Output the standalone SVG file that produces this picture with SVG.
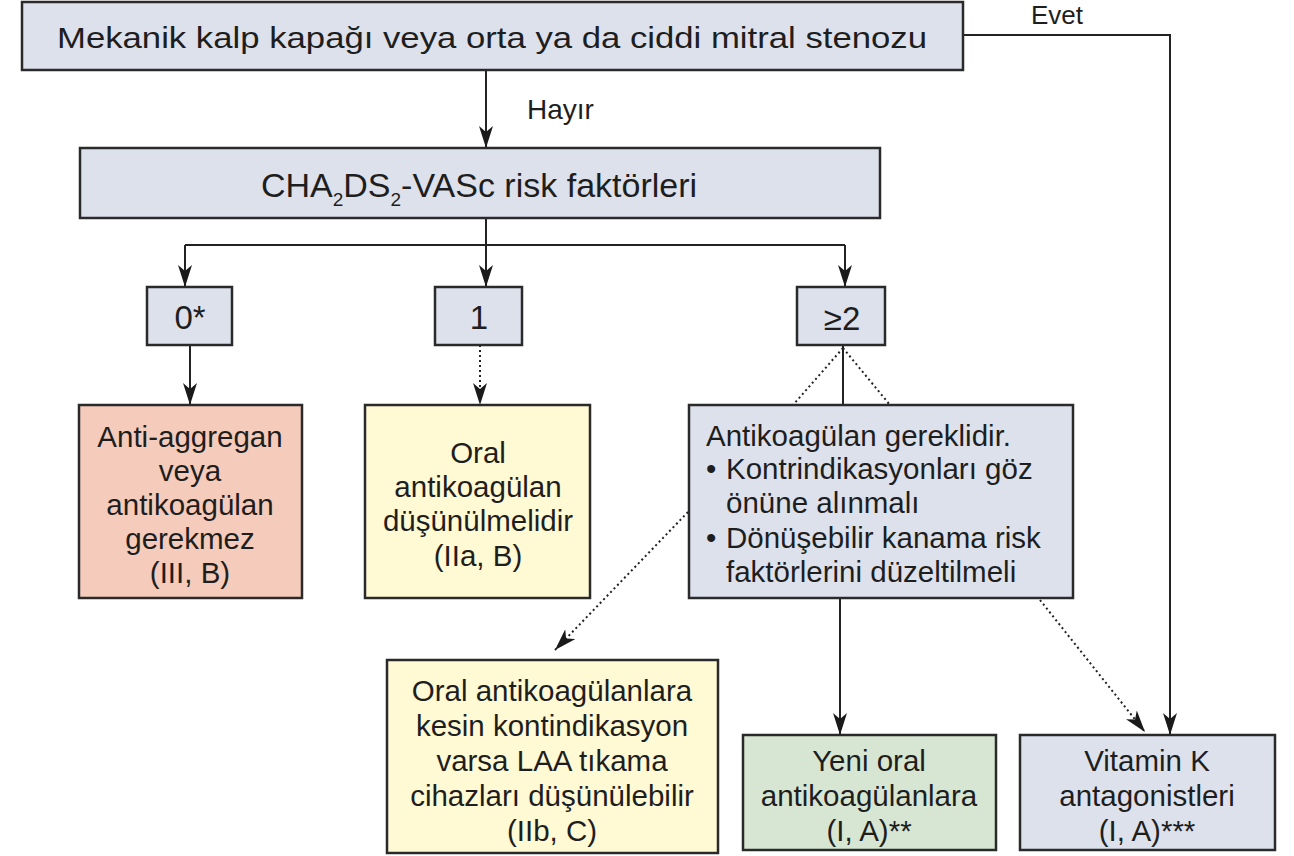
<svg xmlns="http://www.w3.org/2000/svg" width="1294" height="856" viewBox="0 0 1294 856">
<style>
.box{stroke:#2a2a2a;stroke-width:2.5}
.blue{fill:#dde1ec}
.red{fill:#f5cbbb}
.yel{fill:#fff9d4}
.grn{fill:#d7e6d2}
text{font-family:"Liberation Sans",Arial,sans-serif;fill:#1e1e1e}
.t{font-size:29.5px;text-anchor:middle}
.tl{font-size:29.5px}
.n{font-size:33px;text-anchor:middle}
.lbl{font-size:28px}
.ln{stroke:#222;stroke-width:2;fill:none}
.dt{stroke:#222;stroke-width:2;fill:none;stroke-dasharray:2 3}
</style>
<defs>
<marker id="ah" viewBox="0 0 22 14" refX="22" refY="7" markerWidth="22" markerHeight="14" markerUnits="userSpaceOnUse" orient="auto">
<path d="M0,0 L22,7 L0,14 L6,7 z" fill="#1a1a1a"/>
</marker>
</defs>
<g id="connectors">
<path class="ln" d="M963,35 H1170 V735" marker-end="url(#ah)"/>
<path class="ln" d="M486,70 V148" marker-end="url(#ah)"/>
<path class="ln" d="M486,218 V245"/>
<path class="ln" d="M185,245 H845"/>
<path class="ln" d="M185,245 V287" marker-end="url(#ah)"/>
<path class="ln" d="M486,245 V287" marker-end="url(#ah)"/>
<path class="ln" d="M845,245 V287" marker-end="url(#ah)"/>
<path class="ln" d="M190,345 V405" marker-end="url(#ah)"/>
<path class="dt" d="M480,345 V405" marker-end="url(#ah)"/>
<path class="ln" d="M843,345 V405"/>
<path class="dt" d="M843,348 L793,405"/>
<path class="dt" d="M843,348 L890,405"/>
<path class="dt" d="M688,512 L555,650" marker-end="url(#ah)"/>
<path class="ln" d="M840,598 V735" marker-end="url(#ah)"/>
<path class="dt" d="M1040,600 L1145,732" marker-end="url(#ah)"/>
<text class="lbl" x="1031" y="24" style="font-size:26px">Evet</text>
<text class="lbl" x="527" y="119">Hayır</text>
</g>
<g id="n-top">
<rect class="box blue" x="22" y="2" width="941" height="68"/>
<text class="t" x="492" y="48" style="font-size:30px" textLength="870" lengthAdjust="spacingAndGlyphs">Mekanik kalp kapağı veya orta ya da ciddi mitral stenozu</text>
</g>
<g id="n-cha">
<rect class="box blue" x="80" y="148" width="800" height="70"/>
<text class="t" x="479" y="197" style="font-size:34px">CHA<tspan style="font-size:19px" dy="9">2</tspan><tspan dy="-9">DS</tspan><tspan style="font-size:19px" dy="9">2</tspan><tspan dy="-9">-VASc risk faktörleri</tspan></text>
</g>
<g id="n-0">
<rect class="box blue" x="147" y="287" width="85" height="58"/>
<text class="n" x="190" y="329">0*</text>
</g>
<g id="n-1">
<rect class="box blue" x="435" y="287" width="87" height="58"/>
<text class="n" x="479" y="329">1</text>
</g>
<g id="n-2">
<rect class="box blue" x="797" y="287" width="88" height="58"/>
<text class="n" x="842" y="330">≥2</text>
</g>
<g id="n-anti">
<rect class="box red" x="79" y="405" width="223" height="193"/>
<text class="t" x="190" y="447">Anti-aggregan</text>
<text class="t" x="190" y="481">veya</text>
<text class="t" x="190" y="515">antikoagülan</text>
<text class="t" x="190" y="549">gerekmez</text>
<text class="t" x="190" y="583">(III, B)</text>
</g>
<g id="n-oral">
<rect class="box yel" x="365" y="405" width="225" height="193"/>
<text class="t" x="478" y="463">Oral</text>
<text class="t" x="478" y="497">antikoagülan</text>
<text class="t" x="478" y="531">düşünülmelidir</text>
<text class="t" x="478" y="566">(IIa, B)</text>
</g>
<g id="n-antikoag">
<rect class="box blue" x="689" y="405" width="384" height="193"/>
<text class="tl" x="706" y="446">Antikoagülan gereklidir.</text>
<text class="tl" x="706" y="479">•</text>
<text class="tl" x="726" y="479">Kontrindikasyonları göz</text>
<text class="tl" x="726" y="513">önüne alınmalı</text>
<text class="tl" x="706" y="548">•</text>
<text class="tl" x="726" y="548">Dönüşebilir kanama risk</text>
<text class="tl" x="726" y="582">faktörlerini düzeltilmeli</text>
</g>
<g id="n-laa">
<rect class="box yel" x="387" y="660" width="331" height="193"/>
<text class="t" x="552" y="701">Oral antikoagülanlara</text>
<text class="t" x="552" y="736">kesin kontindikasyon</text>
<text class="t" x="552" y="771">varsa LAA tıkama</text>
<text class="t" x="552" y="806">cihazları düşünülebilir</text>
<text class="t" x="552" y="841">(IIb, C)</text>
</g>
<g id="n-yeni">
<rect class="box grn" x="743" y="735" width="253" height="115"/>
<text class="t" x="869" y="771">Yeni oral</text>
<text class="t" x="869" y="806">antikoagülanlara</text>
<text class="t" x="869" y="841">(I, A)**</text>
</g>
<g id="n-vka">
<rect class="box blue" x="1020" y="735" width="255" height="115"/>
<text class="t" x="1147" y="771">Vitamin K</text>
<text class="t" x="1147" y="806">antagonistleri</text>
<text class="t" x="1147" y="841">(I, A)***</text>
</g>
</svg>
